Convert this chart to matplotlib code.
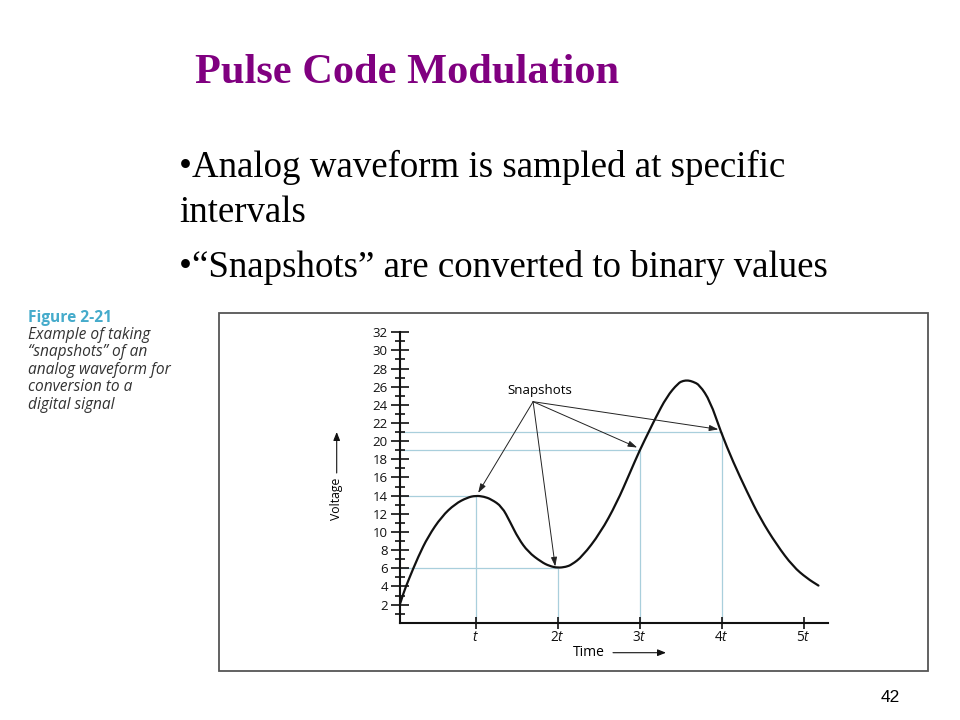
import matplotlib
matplotlib.use("Agg")
import matplotlib.pyplot as plt
from matplotlib.patches import Rectangle, PathPatch
from matplotlib.path import Path

# waveform (x in units of t, y in volts)
wave_t = [0.08, 0.12, 0.18, 0.30, 0.42, 0.585, 0.75, 0.90, 1.00, 1.10, 1.19, 1.32,
          1.42, 1.52, 1.64, 1.80, 1.90, 2.00, 2.10, 2.17, 2.30, 2.52, 2.72, 2.88,
          3.00, 3.12, 3.19, 3.33, 3.47, 3.53, 3.59, 3.65, 3.73, 3.86, 3.99, 4.14,
          4.31, 4.47, 4.67, 4.87, 5.04, 5.18]
wave_v = [2.15, 3.3, 4.7, 7.3, 9.5, 11.7, 13.1, 13.8, 14.0, 13.9, 13.6, 12.8,
          11.1, 9.3, 7.8, 6.7, 6.25, 6.05, 6.15, 6.4, 7.3, 9.9, 13.2, 16.5,
          19.0, 21.2, 22.5, 24.9, 26.4, 26.65, 26.7, 26.55, 26.2, 24.4, 21.0, 17.7,
          14.4, 11.5, 8.6, 6.2, 4.9, 4.1]

# snapshot samples
sample_t = [1, 2, 3, 4]
sample_v = [14, 6, 19, 21]
tip_t = [1.03, 1.97, 2.97, 3.96]
tip_v = [14.3, 6.2, 19.3, 21.3]

x_ticks = [1, 2, 3, 4, 5]
x_labels = ["$t$", "2$t$", "3$t$", "4$t$", "5$t$"]
y_major = list(range(2, 33, 2))
y_minor = list(range(1, 32, 2))

caption = ["Example of taking", "\u201csnapshots\u201d of an", "analog waveform for",
           "conversion to a", "digital signal"]

W, H = 960, 720


def fx(x):
    return x / W


def fy(y):
    return 1 - y / H


def smooth_path(xs, ys):
    # quadratic bezier through the midpoints, read points used as control points
    verts = [(xs[0], ys[0])]
    codes = [Path.MOVETO]
    for i in range(1, len(xs) - 1):
        verts += [(xs[i], ys[i]), ((xs[i] + xs[i + 1]) / 2, (ys[i] + ys[i + 1]) / 2)]
        codes += [Path.CURVE3, Path.CURVE3]
    verts.append((xs[-1], ys[-1]))
    codes.append(Path.LINETO)
    return Path(verts, codes)


plt.rcParams['mathtext.fontset'] = 'custom'
plt.rcParams['mathtext.it'] = 'Open Sans:italic'
plt.rcParams['mathtext.rm'] = 'Open Sans'

fig = plt.figure(figsize=(9.6, 7.2), dpi=100)
fig.patch.set_facecolor('white')

# slide text
fig.text(fx(195), fy(82.7), "Pulse Code Modulation", family="Liberation Serif",
         weight="bold", size=30.5, color="#800080", va="baseline")
fig.text(fx(179), fy(176.7), "\u2022Analog waveform is sampled at specific",
         family="Liberation Serif", size=26.6, va="baseline")
fig.text(fx(179), fy(221.7), "intervals", family="Liberation Serif", size=26.6, va="baseline")
fig.text(fx(179), fy(276.7), "\u2022\u201cSnapshots\u201d are converted to binary values",
         family="Liberation Serif", size=26.6, va="baseline")
fig.text(fx(890.7), fy(697.3), "42", family="Liberation Sans", size=12.5,
         ha="center", va="center")

# figure caption on the left
fig.text(fx(28), fy(318), "Figure 2-21", family="Open Sans", weight="bold",
         size=11.2, color="#45abcb", va="center")
for i, line in enumerate(caption):
    fig.text(fx(28), fy(335 + i * 17.4), line, family="Open Sans", style="italic",
             size=11.2, color="#333333", va="center")

# frame round the figure
fig.patches.append(Rectangle((fx(218.5), fy(671)), fx(927.5) - fx(218.5), fy(312.5) - fy(671),
                             transform=fig.transFigure, fill=False,
                             edgecolor="#555555", lw=1.3))

ax = fig.add_axes([fx(400), fy(622.8), fx(428.3), 290.6 / H])
ax.set_facecolor("none")
ax.set_xlim(0.077, 5.3)
ax.set_ylim(0, 32)

blue = "#a9cfdc"
ax.hlines(sample_v, 0.077, sample_t, color=blue, lw=0.9, zorder=1)
ax.vlines(sample_t, 0, sample_v, color=blue, lw=0.9, zorder=1)
ax.add_patch(PathPatch(smooth_path(wave_t, wave_v), fill=False, edgecolor="#111111",
                       lw=1.6, zorder=3, clip_on=False, capstyle="round", joinstyle="round"))

ax.text(1.78, 25.56, "Snapshots", family="Open Sans", size=9.5, ha="center", va="center")
for xt, yt in zip(tip_t, tip_v):
    ax.annotate("", xy=(xt, yt), xytext=(1.70, 24.35),
                arrowprops=dict(arrowstyle="-|>,head_length=0.55,head_width=0.18",
                                color="#222222", lw=0.7, shrinkA=0, shrinkB=0))

for s in ["top", "right"]:
    ax.spines[s].set_visible(False)
for s in ["left", "bottom"]:
    ax.spines[s].set_linewidth(1.5)
    ax.spines[s].set_color("#111111")

ax.set_yticks(y_major)
ax.set_yticks(y_minor, minor=True)
ax.set_xticks(x_ticks)
ax.set_xticklabels(x_labels)
ax.tick_params(axis="y", which="major", direction="inout", length=13.4, width=1.2,
               pad=2, labelsize=9.5, colors="#111111")
ax.tick_params(axis="y", which="minor", direction="inout", length=6.7, width=1.2,
               colors="#111111")
ax.tick_params(axis="x", which="major", direction="inout", length=9, width=1.2,
               pad=1, labelsize=9.8, colors="#111111")
for lab in ax.get_yticklabels() + ax.get_xticklabels():
    lab.set_family("Open Sans")

# axis names with arrows
fig.text(fx(336.7), fy(499), "Voltage", family="Open Sans", size=8.8,
         rotation=90, ha="center", va="center")
fig.add_artist(plt.Annotation("", xy=(336.7, H - 432), xytext=(336.7, H - 473),
                              xycoords="figure pixels", textcoords="figure pixels",
                              arrowprops=dict(arrowstyle="-|>,head_length=0.5,head_width=0.2",
                                              color="#111111", lw=0.8, shrinkA=0, shrinkB=0)))
fig.text(fx(573), fy(652.7), "Time", family="Open Sans", size=10, va="center")
fig.add_artist(plt.Annotation("", xy=(666, H - 652.7), xytext=(613, H - 652.7),
                              xycoords="figure pixels", textcoords="figure pixels",
                              arrowprops=dict(arrowstyle="-|>,head_length=0.5,head_width=0.2",
                                              color="#111111", lw=0.8, shrinkA=0, shrinkB=0)))

fig.savefig("out.png", dpi=100)
